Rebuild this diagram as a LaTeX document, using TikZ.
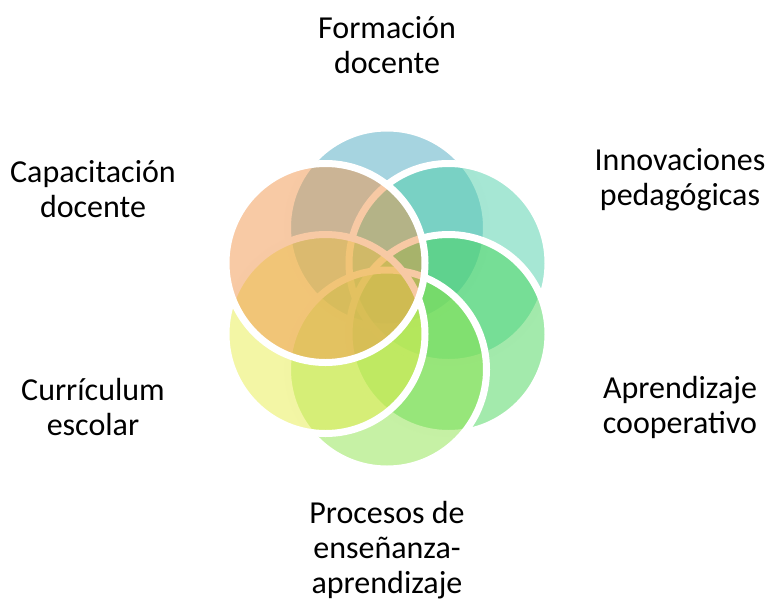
\documentclass[tikz,border=0pt]{standalone}
\usepackage{fontspec}
\setmainfont{Carlito}
\definecolor{cblue}{RGB}{77,169,193}
\definecolor{cteal}{RGB}{77,207,169}
\definecolor{cgreen}{RGB}{71,213,89}
\definecolor{clgreen}{RGB}{141,227,75}
\definecolor{cyellow}{RGB}{231,237,75}
\definecolor{corange}{RGB}{241,149,75}
\tikzset{
  ring/.style={circle, draw=white, line width=7pt, fill=#1, fill opacity=0.5, draw opacity=1, minimum size=199pt, inner sep=0pt},
  lbl/.style={align=center, font=\fontsize{32}{35}\selectfont, text=black, inner sep=0pt}
}
\begin{document}
\begin{tikzpicture}[x=1pt,y=-1pt]
\useasboundingbox (0,0) rectangle (768,598);
\node[ring=cblue]   (c1) at (387,227.5) {};
\node[ring=cteal]   (c2) at (448.5,263) {};
\node[ring=cgreen]  (c3) at (448.5,334) {};
\node[ring=clgreen] (c4) at (387,369.5) {};
\node[ring=cyellow] (c5) at (325.5,334) {};
\node[ring=corange] (c6) at (325.5,263) {};
\node[lbl] (t1) at (387,45) {Formación\\docente};
\node[lbl] (t2) at (680,180) {Innovaciones\\pedagógicas};
\node[lbl] (t3) at (680,407) {Aprendizaje\\cooperativo};
\node[lbl] (t4) at (387,550) {Procesos de\\enseñanza-\\aprendizaje};
\node[lbl] (t5) at (93,407) {Currículum\\escolar};
\node[lbl] (t6) at (93,189) {Capacitación\\docente};
\end{tikzpicture}
\end{document}
